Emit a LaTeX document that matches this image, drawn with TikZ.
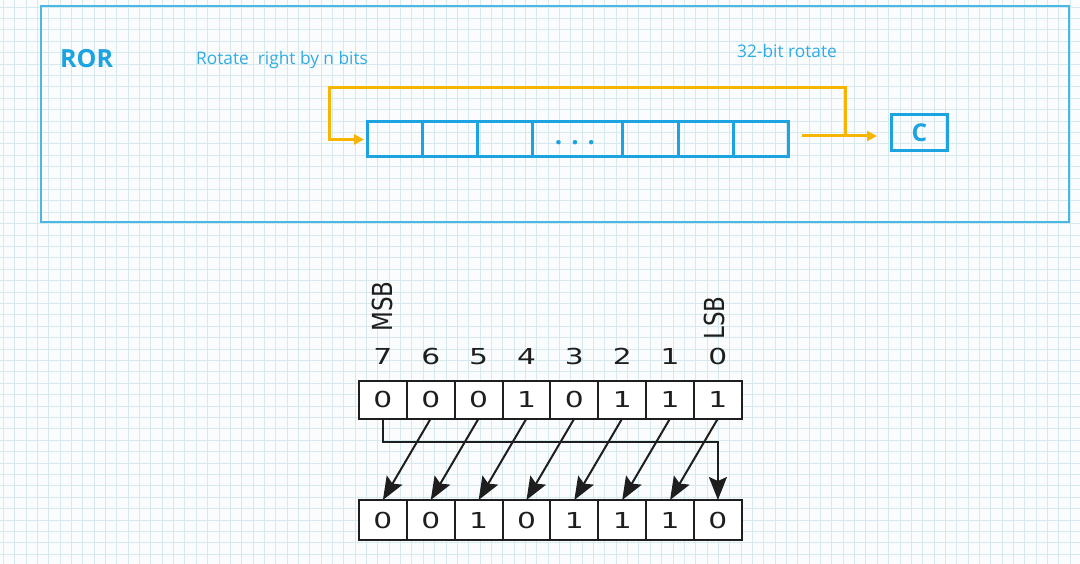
\documentclass[tikz,border=0pt]{standalone}
\usepackage{fontspec}
\usepackage{graphicx}
\setmainfont{Open Sans}
\newfontfamily\dejavu{DejaVu Sans}
\usetikzlibrary{arrows.meta}
\definecolor{gridc}{RGB}{214,233,238}
\definecolor{bgc}{RGB}{250,252,253}
\definecolor{boxblue}{RGB}{74,184,226}
\definecolor{regblue}{RGB}{27,163,226}
\definecolor{txtblue}{RGB}{48,172,226}
\definecolor{orng}{RGB}{246,181,0}
\definecolor{ink}{RGB}{30,30,30}
\newcommand\dg[1]{\scalebox{1.35}[1]{#1}}
\tikzset{
  barrow/.style={draw=ink, line width=2pt, arrows={-Stealth[length=23pt,width=18pt,inset=4pt]}}
}
\begin{document}
\begin{tikzpicture}[x=1pt,y=-1pt,
  gridline/.style={draw=gridc, line width=0.9pt},
  rcell/.style={draw=regblue, line width=3pt, minimum height=35pt, inner sep=0pt, outer sep=0pt, anchor=west},
  oline/.style={draw=orng, line width=3pt, arrows={-Triangle[length=10pt,width=10pt]}},
  bcell/.style={draw=ink, fill=white, line width=2pt, minimum width=47.9pt, inner sep=0pt, outer sep=0pt, font=\dejavu\fontsize{22}{22}\selectfont, text=ink},
  lbl/.style={inner sep=0pt, font=\dejavu\fontsize{22}{22}\selectfont, text=ink},
  blbl/.style={inner sep=0pt, rotate=90, anchor=west, font=\dejavu\fontsize{23}{23}\selectfont, text=ink}
]
\useasboundingbox (0,0) rectangle (1080,564);
\fill[bgc] (0,0) rectangle (1080,564);
\foreach \i in {0,...,95} \draw[gridline] ({3.3+\i*11.35},0) -- ({3.3+\i*11.35},564);
\foreach \j in {0,...,49} \draw[gridline] (0,{7+\j*11.4}) -- (1080,{7+\j*11.4});

% top frame
\node[draw=boxblue, line width=2pt, minimum width=1028pt, minimum height=216pt, inner sep=0pt] (frame) at (555,114) {};
\node[anchor=base west, inner sep=0pt, text=regblue, font=\bfseries\fontsize{25}{25}\selectfont] (ror) at (60,68) {ROR};
\node[anchor=base west, inner sep=0pt, text=txtblue, font=\fontsize{17.3}{17.3}\selectfont] (desc) at (196,65) {Rotate~ right by n bits};
\node[anchor=base west, inner sep=0pt, text=txtblue, font=\fontsize{17.3}{17.3}\selectfont] (b32) at (737,58) {32-bit rotate};

% register
\node[rcell, minimum width=55.3pt] (r1) at (367,139.5) {};
\node[rcell, minimum width=55.3pt] (r2) at (r1.east) {};
\node[rcell, minimum width=55.3pt] (r3) at (r2.east) {};
\node[rcell, minimum width=90pt] (r4) at (r3.east) {};
\node[rcell, minimum width=55.3pt] (r5) at (r4.east) {};
\node[rcell, minimum width=55.3pt] (r6) at (r5.east) {};
\node[rcell, minimum width=55.3pt] (r7) at (r6.east) {};
\node[inner sep=0pt, text=regblue, font=\bfseries\fontsize{26}{26}\selectfont] (dots) at (575,143) {. . .};

\node[draw=regblue, line width=3pt, minimum width=56pt, minimum height=36pt, inner sep=0pt, outer sep=0pt, text=regblue, font=\bfseries\fontsize{24.5}{24.5}\selectfont] (C) at (919.5,132.5) {C};

\coordinate (os) at (802,136);
\coordinate (oj) at (845,136);
\coordinate (oe) at (877,136);
\coordinate (otl) at (329,88);
\draw[oline] (os) -- (oe);
\draw[oline] (oj) |- (otl) |- ([xshift=-3pt]r1.west);

% bottom diagram
\foreach [count=\i from 0] \b/\v in {7/0,6/0,5/0,4/1,3/0,2/1,1/1,0/1}
  \node[bcell, minimum height=38pt] (t\b) at ({382.9+\i*47.86},399.5) {\dg{\v}};
\foreach [count=\i from 0] \b/\v in {7/0,6/0,5/1,4/0,3/1,2/1,1/1,0/0}
  \node[bcell, minimum height=40pt] (b\b) at ({382.9+\i*47.86},520) {\dg{\v}};
\foreach [count=\i from 0] \b in {7,6,5,4,3,2,1,0}
  \node[lbl] (n\b) at ({382.9+\i*47.86},356.5) {\dg{\b}};
\node[blbl] (msb) at (382,332) {\scalebox{1}[1.2]{MSB}};
\node[blbl] (lsb) at (714,340) {\scalebox{1}[1.2]{LSB}};

\foreach \a/\c in {6/7,5/6,4/5,3/4,2/3,1/2,0/1}
  \draw[barrow] (t\a.south) -- (b\c.north);
\draw[barrow] (t7.south) -- ++(0,23) -| (b0.north);
\end{tikzpicture}
\end{document}
